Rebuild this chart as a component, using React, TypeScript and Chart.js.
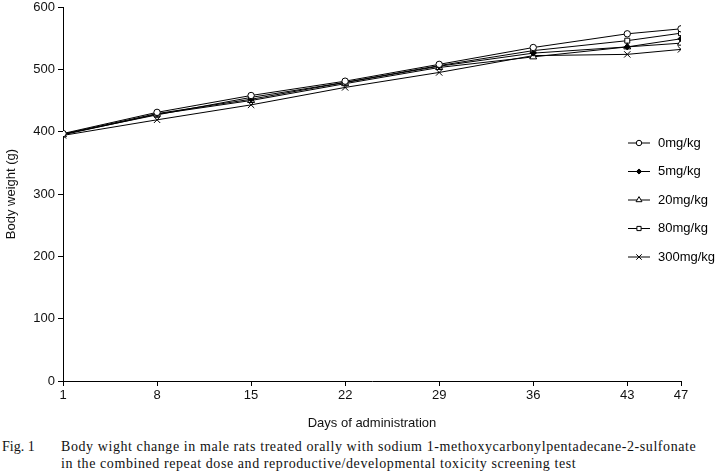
import React, { useEffect, useRef } from "react";
import { Chart, registerables } from "chart.js";
import { drawPoint } from "chart.js/helpers";

Chart.register(...registerables);

const days = [1, 8, 15, 22, 29, 36, 43, 47];
const dose0 = [397, 431, 458, 481, 508, 535, 557, 565];
const dose5 = [396, 429, 452, 479, 505, 526, 536, 549];
const dose20 = [395, 428, 450, 477, 503, 520, 536, 542];
const dose80 = [396, 427, 455, 479, 506, 530, 546, 558];
const dose300 = [394, 419, 443, 471, 495, 522, 524, 532];
const seriesLabels = ["0mg/kg", "5mg/kg", "20mg/kg", "80mg/kg", "300mg/kg"];
const yTicks = [0, 100, 200, 300, 400, 500, 600];

const styles = [
  { pointStyle: "circle", radius: 3.2, fill: "#ffffff" },
  { pointStyle: "rectRot", radius: 3, fill: "#000000" },
  { pointStyle: "triangle", radius: 4, fill: "#ffffff" },
  { pointStyle: "rect", radius: 3.5, fill: "#ffffff" },
  { pointStyle: "crossRot", radius: 4.5, fill: "#ffffff" },
];

const legendPlugin = {
  id: "customLegend",
  afterDraw(chart: any) {
    const ctx = chart.ctx;
    const x0 = 628;
    const x1 = 650;
    const top = 143;
    const step = 28.5;
    ctx.save();
    chart.data.datasets.forEach((ds: any, i: number) => {
      const y = top + i * step;
      ctx.strokeStyle = "#000";
      ctx.lineWidth = 1;
      ctx.beginPath();
      ctx.moveTo(x0, y);
      ctx.lineTo(x1, y);
      ctx.stroke();
      ctx.fillStyle = ds.pointBackgroundColor;
      ctx.strokeStyle = "#000";
      ctx.lineWidth = 1;
      drawPoint(ctx, { pointStyle: ds.pointStyle, radius: ds.pointRadius * 0.85, rotation: 0, borderWidth: 1 }, (x0 + x1) / 2, y);
      ctx.fillStyle = "#000";
      ctx.font = "13px 'Liberation Sans', Arial, sans-serif";
      ctx.textAlign = "left";
      ctx.textBaseline = "middle";
      ctx.fillText(ds.label, 658, y);
    });
    ctx.restore();
  },
};

export default function App() {
  const ref = useRef<HTMLCanvasElement | null>(null);
  useEffect(() => {
    if (!ref.current) return;
    const series = [dose0, dose5, dose20, dose80, dose300];
    const chart = new Chart(ref.current, {
      type: "line",
      data: {
        datasets: series.map((vals, i) => ({
          label: seriesLabels[i],
          data: vals.map((v, j) => ({ x: days[j], y: v })),
          borderColor: "#000",
          borderWidth: 1,
          pointStyle: styles[i].pointStyle as any,
          pointRadius: styles[i].radius,
          pointBackgroundColor: styles[i].fill,
          pointBorderColor: "#000",
          pointBorderWidth: 1,
          tension: 0,
          fill: false,
        })),
      },
      options: {
        animation: false,
        responsive: false,
        devicePixelRatio: 1,
        layout: { padding: { top: 7, right: 39, left: 0, bottom: 0 } },
        plugins: { legend: { display: false }, tooltip: { enabled: false } },
        scales: {
          x: {
            type: "linear",
            min: days[0],
            max: days[days.length - 1],
            afterBuildTicks: (s: any) => {
              s.ticks = days.map((d) => ({ value: d }));
            },
            afterFit: (s: any) => {
              s.height = 51;
              s.paddingLeft = 0;
              s.paddingRight = 0;
            },
            grid: { display: true, drawOnChartArea: false, drawTicks: true, tickLength: 5, color: "#000" },
            border: { display: true, color: "#000", width: 1 },
            ticks: {
              color: "#111",
              font: { family: "'Liberation Sans', Arial, sans-serif", size: 13 },
              autoSkip: false,
              maxRotation: 0,
              padding: 2,
            },
            title: {
              display: true,
              text: "Days of administration",
              color: "#111",
              font: { family: "'Liberation Sans', Arial, sans-serif", size: 13 },
              padding: { top: 0, bottom: 1 },
            },
          },
          y: {
            type: "linear",
            min: 0,
            max: 600,
            afterBuildTicks: (s: any) => {
              s.ticks = yTicks.map((v) => ({ value: v }));
            },
            afterFit: (s: any) => {
              s.width = 63;
              s.paddingTop = 0;
              s.paddingBottom = 0;
            },
            grid: { display: true, drawOnChartArea: false, drawTicks: true, tickLength: 5, color: "#000" },
            border: { display: true, color: "#000", width: 1 },
            ticks: {
              color: "#111",
              font: { family: "'Liberation Sans', Arial, sans-serif", size: 13 },
              padding: 3,
            },
            title: {
              display: true,
              text: "Body weight (g)",
              color: "#111",
              font: { family: "'Liberation Sans', Arial, sans-serif", size: 13 },
              padding: { top: 4, bottom: 0 },
            },
          },
        },
      },
      plugins: [legendPlugin],
    });
    return () => chart.destroy();
  }, []);

  return (
    <div style={{ position: "absolute", left: 0, top: 0, width: 720, height: 476, background: "#fff" }}>
      <canvas ref={ref} width={720} height={432} style={{ position: "absolute", left: 0, top: 0 }} />
      <div
        style={{
          position: "absolute",
          left: 2,
          top: 438,
          width: 718,
          fontFamily: "'Liberation Serif', 'Times New Roman', serif",
          fontSize: 14,
          letterSpacing: "0.58px",
          lineHeight: "17px",
          color: "#111",
          whiteSpace: "nowrap",
        }}
      >
        <div>
          <span style={{ display: "inline-block", width: 59, letterSpacing: 0 }}>Fig. 1</span>
          <span>Body wight change in male rats treated orally with sodium 1-methoxycarbonylpentadecane-2-sulfonate</span>
        </div>
        <div style={{ paddingLeft: 59 }}>in the combined repeat dose and reproductive/developmental toxicity screening test</div>
      </div>
    </div>
  );
}
